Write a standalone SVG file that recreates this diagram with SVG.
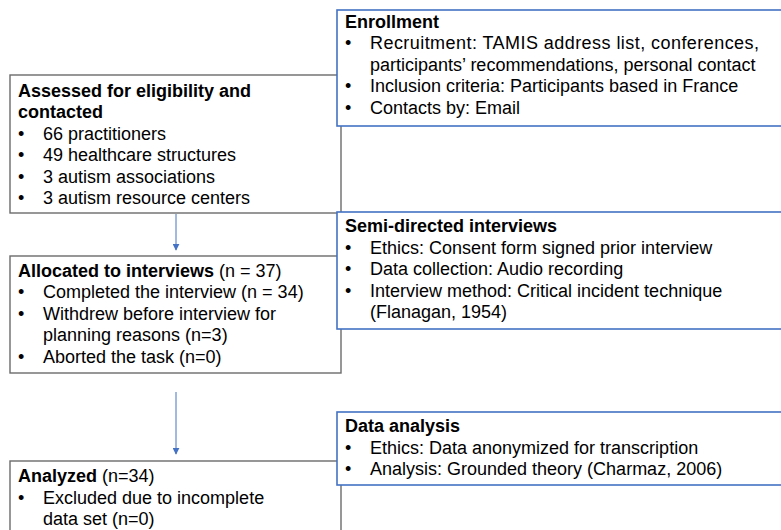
<svg xmlns="http://www.w3.org/2000/svg" width="781" height="530" viewBox="0 0 781 530">
<defs>
<style>
.gbox{fill:#fff;stroke:#6b6b6b;stroke-width:1.4}
.bbox{fill:#fff;stroke:#4472c4;stroke-width:1.6}
text{font-family:"Liberation Sans",Arial,sans-serif;font-size:18px;fill:#000}
.b{font-weight:bold}
.conn{stroke:#4472c4;stroke-width:1;fill:none}
</style>
<marker id="ah" viewBox="0 0 10 10" refX="9" refY="5" markerWidth="7" markerHeight="7" markerUnits="userSpaceOnUse" orient="auto">
<path d="M0,0 L10,5 L0,10 z" fill="#4472c4"/>
</marker>
</defs>
<rect width="781" height="530" fill="#fff"/>
<g id="connectors">
<line class="conn" x1="176" y1="214" x2="176" y2="250" marker-end="url(#ah)"/>
<line class="conn" x1="176" y1="392" x2="176" y2="454" marker-end="url(#ah)"/>
</g>
<g id="assessed">
<rect class="gbox" x="10" y="75" width="331" height="138"/>
<text x="18" y="96.5" class="b">Assessed for eligibility and</text>
<text x="18" y="118" class="b">contacted</text>
<text x="18" y="139.5">•</text><text x="43" y="139.5">66 practitioners</text>
<text x="18" y="161">•</text><text x="43" y="161">49 healthcare structures</text>
<text x="18" y="182.5">•</text><text x="43" y="182.5">3 autism associations</text>
<text x="18" y="204">•</text><text x="43" y="204">3 autism resource centers</text>
</g>
<g id="enrollment">
<rect class="bbox" x="337" y="10" width="450" height="116"/>
<text x="345" y="27.5" class="b">Enrollment</text>
<text x="345" y="49">•</text><text x="370" y="49" textLength="389" lengthAdjust="spacing">Recruitment: TAMIS address list, conferences,</text>
<text x="370" y="70.5">participants’ recommendations, personal contact</text>
<text x="345" y="92">•</text><text x="370" y="92">Inclusion criteria: Participants based in France</text>
<text x="345" y="113.5">•</text><text x="370" y="113.5">Contacts by: Email</text>
</g>
<g id="allocated">
<rect class="gbox" x="10" y="256" width="331" height="117"/>
<text x="18" y="276.5"><tspan class="b">Allocated to interviews</tspan> (n = 37)</text>
<text x="18" y="298">•</text><text x="43" y="298">Completed the interview (n = 34)</text>
<text x="18" y="319.5">•</text><text x="43" y="319.5">Withdrew before interview for</text>
<text x="43" y="341">planning reasons (n=3)</text>
<text x="18" y="362.5">•</text><text x="43" y="362.5">Aborted the task (n=0)</text>
</g>
<g id="interviews">
<rect class="bbox" x="337" y="212" width="450" height="117"/>
<text x="345" y="232" class="b">Semi-directed interviews</text>
<text x="345" y="253.5">•</text><text x="370" y="253.5">Ethics: Consent form signed prior interview</text>
<text x="345" y="275">•</text><text x="370" y="275">Data collection: Audio recording</text>
<text x="345" y="296.5">•</text><text x="370" y="296.5">Interview method: Critical incident technique</text>
<text x="370" y="318">(Flanagan, 1954)</text>
</g>
<g id="analyzed">
<rect class="gbox" x="10" y="461" width="331" height="80"/>
<text x="18" y="482"><tspan class="b">Analyzed</tspan> (n=34)</text>
<text x="18" y="503.5">•</text><text x="43" y="503.5">Excluded due to incomplete</text>
<text x="43" y="525">data set (n=0)</text>
</g>
<g id="data-analysis">
<rect class="bbox" x="337" y="412" width="450" height="73"/>
<text x="345" y="432" class="b">Data analysis</text>
<text x="345" y="453.5">•</text><text x="370" y="453.5">Ethics: Data anonymized for transcription</text>
<text x="345" y="475">•</text><text x="370" y="475">Analysis: Grounded theory (Charmaz, 2006)</text>
</g>
</svg>
